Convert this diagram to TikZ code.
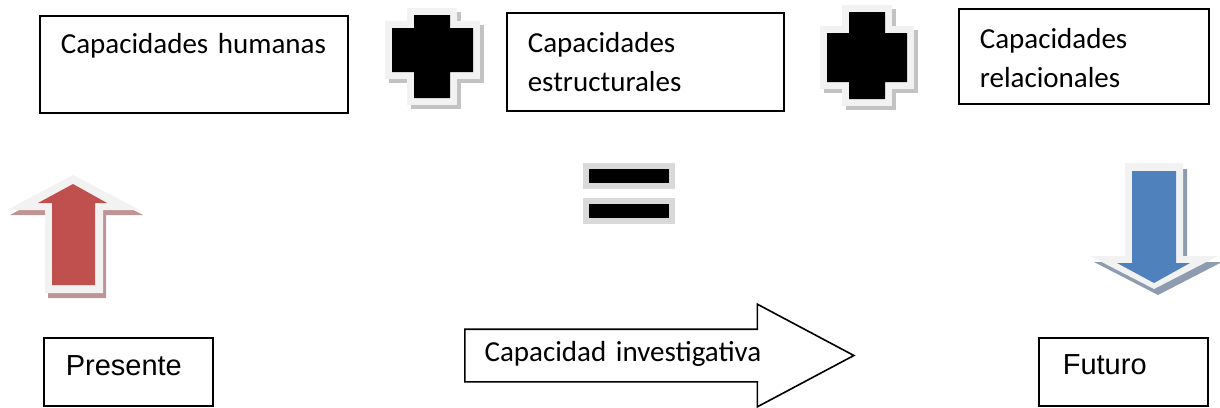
\documentclass[tikz,border=0pt]{standalone}
\usepackage{fontspec}
\setmainfont{Carlito}[WordSpace=0.75]
\newfontfamily\arialfont{Liberation Sans}
\usetikzlibrary{shapes,arrows,positioning}

\definecolor{capred}{HTML}{C0504D}
\definecolor{capblue}{HTML}{4F81BD}
\definecolor{rimgray}{HTML}{F2F2F2}
\definecolor{shadegray}{HTML}{C3C3C3}
\definecolor{eqgray}{HTML}{D9D9D9}
\definecolor{redshade}{HTML}{BF9494}
\definecolor{blueshade}{HTML}{8E9CB0}

\begin{document}
\begin{tikzpicture}[
    x=1pt, y=-1pt,
    capbox/.style={draw, line width=1.6pt, anchor=north west, inner ysep=0pt, align=left, font=\fontsize{29}{39}\selectfont},
    timebox/.style={draw, line width=1.6pt, anchor=north west, inner ysep=0pt, align=left, font=\arialfont\fontsize{29}{34}\selectfont},
    bigarrow/.style={single arrow, draw, line width=1.6pt, inner ysep=0pt, single arrow head extend=25pt, single arrow tip angle=56, align=left, font=\fontsize{29}{39}\selectfont},
    crossshade/.style={draw=shadegray, fill=shadegray, line width=14pt, shift={(4,4)}},
    rim/.style={draw=rimgray, fill=rimgray, line width=14pt},
    ink/.style={fill=black}
]
\useasboundingbox (0,0) rectangle (1220,407);
\clip (0,0) rectangle (1220,407);

% Nodes
\node [capbox, inner xsep=21pt, text width=266pt, text height=38pt, text depth=59pt] (humanas) at (39,15) {\mbox{Capacidades humanas}};
\node [capbox, inner xsep=21pt, text width=235pt, text height=40pt, text depth=58pt] (estructurales) at (506,12) {Capacidades\\estructurales};
\node [capbox, inner xsep=21pt, text width=208pt, text height=40pt, text depth=55pt] (relacionales) at (958,8) {Capacidades\\relacionales};
\node [timebox, inner xsep=22pt, text width=125pt, text height=38pt, text depth=30pt] (presente) at (43,337) {Presente};
\node [timebox, inner xsep=24pt, text width=121pt, text height=37pt, text depth=31pt] (futuro) at (1038,337) {Futuro};
\node [bigarrow, anchor=tail, inner xsep=19pt, text width=300pt, text height=31pt, text depth=20pt] (investigativa) at (464,355.5) {\mbox{Capacidad investigativa}};

% Plus signs
\foreach \hxa/\hxb/\hya/\hyb/\vxa/\vxb/\vya/\vyb in {392/473/28/72/414/450/15/98, 827/907/33/82/849/885/12/99} {
  \foreach \layer in {crossshade, rim, ink}
    \path [\layer] (\vxa,\vya) -- (\vxb,\vya) -- (\vxb,\hya) -- (\hxb,\hya) -- (\hxb,\hyb) -- (\vxb,\hyb)
      -- (\vxb,\vyb) -- (\vxa,\vyb) -- (\vxa,\hyb) -- (\hxa,\hyb) -- (\hxa,\hya) -- (\vxa,\hya) -- cycle;
}

% Equals sign
\foreach \eqy in {169,204} {
  \path [draw=eqgray, fill=eqgray, line width=12pt] (589,\eqy) rectangle (669,\eqy+14);
  \fill (589,\eqy) rectangle (669,\eqy+14);
}

% Up arrow (red)
\fill [redshade, shift={(3,5)}] (73,175) -- (140,210) -- (103,210) -- (103,293) -- (45,293) -- (45,210) -- (7,210) -- cycle;
\fill [rimgray] (73,175) -- (140,210) -- (103,210) -- (103,293) -- (45,293) -- (45,210) -- (7,210) -- cycle;
\fill [capred] (73,184) -- (107,203) -- (95,203) -- (95,285) -- (52,285) -- (52,203) -- (38,203) -- cycle;

% Down arrow (blue)
\fill [blueshade, shift={(4,6)}] (1125,163) -- (1183,163) -- (1183,256) -- (1218,256) -- (1154,289) -- (1090,256) -- (1125,256) -- cycle;
\fill [rimgray] (1125,163) -- (1183,163) -- (1183,256) -- (1218,256) -- (1154,289) -- (1090,256) -- (1125,256) -- cycle;
\fill [capblue] (1132,171) -- (1176,171) -- (1176,263) -- (1190,263) -- (1154,283) -- (1117,263) -- (1132,263) -- cycle;

\end{tikzpicture}
\end{document}
